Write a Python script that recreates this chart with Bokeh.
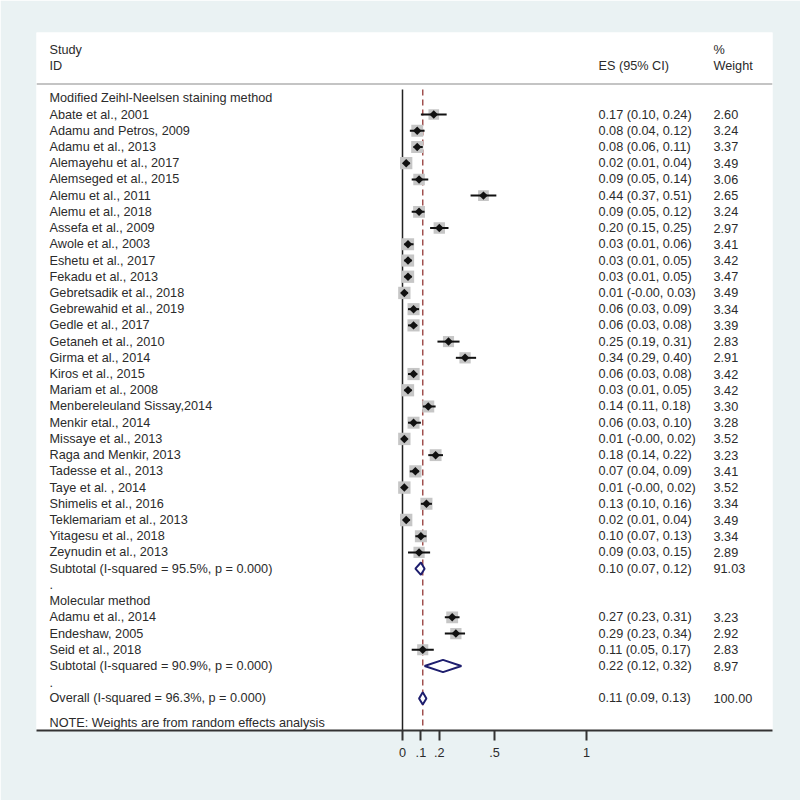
import math
from bokeh.plotting import figure
from bokeh.models import Range1d, FixedTicker, Span, ColumnDataSource
from bokeh.core.properties import value
from bokeh.embed import file_html
from bokeh.resources import INLINE

# ---------------- data ----------------
group1_title = "Modified Zeihl-Neelsen staining method"
studies1 = ["Abate et al., 2001", "Adamu and  Petros, 2009", "Adamu et al., 2013",
            "Alemayehu et al., 2017", "Alemseged et al., 2015", "Alemu  et al., 2011",
            "Alemu et al., 2018", "Assefa et al., 2009", "Awole et al., 2003",
            "Eshetu et al., 2017", "Fekadu et al., 2013", "Gebretsadik et al., 2018",
            "Gebrewahid et al., 2019", "Gedle et al., 2017", "Getaneh et al., 2010",
            "Girma et al., 2014", "Kiros et al., 2015", "Mariam et al., 2008",
            "Menbereleuland Sissay,2014", "Menkir etal., 2014", "Missaye et al., 2013",
            "Raga  and Menkir, 2013", "Tadesse et al., 2013", "Taye et al. , 2014",
            "Shimelis et al., 2016", "Teklemariam et al., 2013", "Yitagesu et al., 2018",
            "Zeynudin et al., 2013"]
es1 = [0.17, 0.08, 0.08, 0.02, 0.09, 0.44, 0.09, 0.20, 0.03, 0.03, 0.03, 0.01, 0.06, 0.06,
       0.25, 0.34, 0.06, 0.03, 0.14, 0.06, 0.01, 0.18, 0.07, 0.01, 0.13, 0.02, 0.10, 0.09]
lci1 = [0.10, 0.04, 0.06, 0.01, 0.05, 0.37, 0.05, 0.15, 0.01, 0.01, 0.01, -0.00, 0.03, 0.03,
        0.19, 0.29, 0.03, 0.01, 0.11, 0.03, -0.00, 0.14, 0.04, -0.00, 0.10, 0.01, 0.07, 0.03]
uci1 = [0.24, 0.12, 0.11, 0.04, 0.14, 0.51, 0.12, 0.25, 0.06, 0.05, 0.05, 0.03, 0.09, 0.08,
        0.31, 0.40, 0.08, 0.05, 0.18, 0.10, 0.02, 0.22, 0.09, 0.02, 0.16, 0.04, 0.13, 0.15]
w1 = [2.60, 3.24, 3.37, 3.49, 3.06, 2.65, 3.24, 2.97, 3.41, 3.42, 3.47, 3.49, 3.34, 3.39,
      2.83, 2.91, 3.42, 3.42, 3.30, 3.28, 3.52, 3.23, 3.41, 3.52, 3.34, 3.49, 3.34, 2.89]

group2_title = "Molecular method"
studies2 = ["Adamu et al., 2014", "Endeshaw, 2005", "Seid et al., 2018"]
es2 = [0.27, 0.29, 0.11]
lci2 = [0.23, 0.23, 0.05]
uci2 = [0.31, 0.34, 0.17]
w2 = [3.23, 2.92, 2.83]

sub_labels = ["Subtotal  (I-squared = 95.5%, p = 0.000)", "Subtotal  (I-squared = 90.9%, p = 0.000)"]
sub_es = [0.10, 0.22]
sub_lci = [0.07, 0.12]
sub_uci = [0.12, 0.32]
sub_w = [91.03, 8.97]

overall_label = "Overall  (I-squared = 96.3%, p = 0.000)"
overall_es = 0.11
overall_lci = 0.09
overall_uci = 0.13
overall_w = 100.00

note = "NOTE: Weights are from random effects analysis"

tick_values = [0, 0.1, 0.2, 0.5, 1]
tick_labels = ["0", ".1", ".2", ".5", "1"]

# ---------------- layout helpers ----------------
PX_PER_UNIT = 184.0
X0_PAGE = 402.0
def xd(page_x):
    return (page_x - X0_PAGE) / PX_PER_UNIT

ROW0 = 97.8
ROWH = 16.22
def rd(page_y):
    return (page_y - ROW0) / ROWH

FONT = value("Liberation Sans")
FS = "12.7px"
TXT = "#2b2b2b"
BG = "#eaf2f3"

p = figure(width=800, height=800, output_backend="svg", toolbar_location=None,
           x_range=Range1d(xd(36), xd(772)), y_range=Range1d(rd(730), rd(32)),
           min_border_left=36, min_border_right=28, min_border_top=32, min_border_bottom=70,
           background_fill_color="white", border_fill_color=BG, outline_line_color=None)
p.yaxis.visible = False
p.xgrid.visible = False
p.ygrid.visible = False

# rows
study_rows1 = list(range(1, 1 + len(studies1)))
sub_row1 = 1 + len(studies1)
dot_row1 = sub_row1 + 1
g2_row = dot_row1 + 1
study_rows2 = list(range(g2_row + 1, g2_row + 1 + len(studies2)))
sub_row2 = study_rows2[-1] + 1
dot_row2 = sub_row2 + 1
overall_row = dot_row2 + 1

# reference lines
p.add_layout(Span(location=rd(83.5), dimension="width", line_color="#c4c4c4", line_width=2))
p.segment(x0=[0], y0=[rd(89)], x1=[0], y1=[rd(730)], line_color="#222222", line_width=1.5)
p.segment(x0=[overall_es], y0=[rd(89)], x1=[overall_es], y1=[rd(730)],
          line_color="#a0504f", line_width=1.5, line_dash="6 4")

# studies
all_es = es1 + es2
all_lci = lci1 + lci2
all_uci = uci1 + uci2
all_w = w1 + w2
all_rows = study_rows1 + study_rows2
src = ColumnDataSource(dict(es=all_es, lci=all_lci, uci=all_uci, w=all_w, r=all_rows,
                            sz=[6.6 * math.sqrt(v) for v in all_w]))
p.scatter(x="es", y="r", size="sz", marker="square", source=src,
          fill_color="#c6c6c6", line_color=None)
p.segment(x0="lci", y0="r", x1="uci", y1="r", source=src, line_color="#111111", line_width=2)
p.scatter(x="es", y="r", size=6, marker="square", angle=math.pi / 4, source=src,
          fill_color="#111111", line_color=None)

# pooled diamonds
d_es = sub_es + [overall_es]
d_lci = sub_lci + [overall_lci]
d_uci = sub_uci + [overall_uci]
d_rows = [sub_row1, sub_row2, overall_row]
h = 0.38
p.patches(xs=[[l, e, u, e] for l, e, u in zip(d_lci, d_es, d_uci)],
          ys=[[r, r - h, r, r + h] for r in d_rows],
          fill_color="white", line_color="#1e1e6e", line_width=2)

# text columns
labels = ([group1_title] + studies1 + [sub_labels[0], ".", group2_title] + studies2 +
          [sub_labels[1], ".", overall_label])
label_rows = list(range(0, overall_row + 1))
p.text(x=[xd(49)] * len(labels), y=label_rows, text=labels, text_font=FONT,
       text_font_size=FS, text_baseline="middle", text_color=TXT)
p.text(x=[xd(49)], y=[rd(722.5)], text=[note], text_font=FONT,
       text_font_size=FS, text_baseline="middle", text_color=TXT)

ci_txt = [f"{e:.2f} ({l:.2f}, {u:.2f})" for e, l, u in zip(all_es + d_es, all_lci + d_lci, all_uci + d_uci)]
w_txt = [f"{v:.2f}" for v in all_w + sub_w + [overall_w]]
txt_rows = all_rows + d_rows
p.text(x=[xd(598)] * len(ci_txt), y=txt_rows, text=ci_txt, text_font=FONT,
       text_font_size=FS, text_baseline="middle", text_color=TXT)
p.text(x=[xd(713)] * len(w_txt), y=txt_rows, text=w_txt, text_font=FONT,
       text_font_size=FS, text_baseline="middle", text_color=TXT)

# headers
p.text(x=[xd(49), xd(49), xd(598), xd(713), xd(713)],
       y=[rd(49), rd(65), rd(65), rd(49), rd(65)],
       text=["Study", "ID", "ES (95% CI)", "%", "Weight"], text_font=FONT,
       text_font_size=FS, text_baseline="middle", text_color=TXT)

# axis
ax = p.xaxis[0]
ax.ticker = FixedTicker(ticks=tick_values)
ax.major_label_overrides = {v: s for v, s in zip(tick_values, tick_labels)}
ax.minor_tick_line_color = None
ax.axis_line_color = "#333333"
ax.axis_line_width = 2
ax.major_tick_line_color = "#333333"
ax.major_tick_line_width = 2
ax.major_tick_in = 0
ax.major_tick_out = 10
ax.major_label_standoff = 7
ax.major_label_text_font = "Liberation Sans"
ax.major_label_text_font_size = FS
ax.major_label_text_color = TXT

open("out.html", "w").write(file_html(p, INLINE))
